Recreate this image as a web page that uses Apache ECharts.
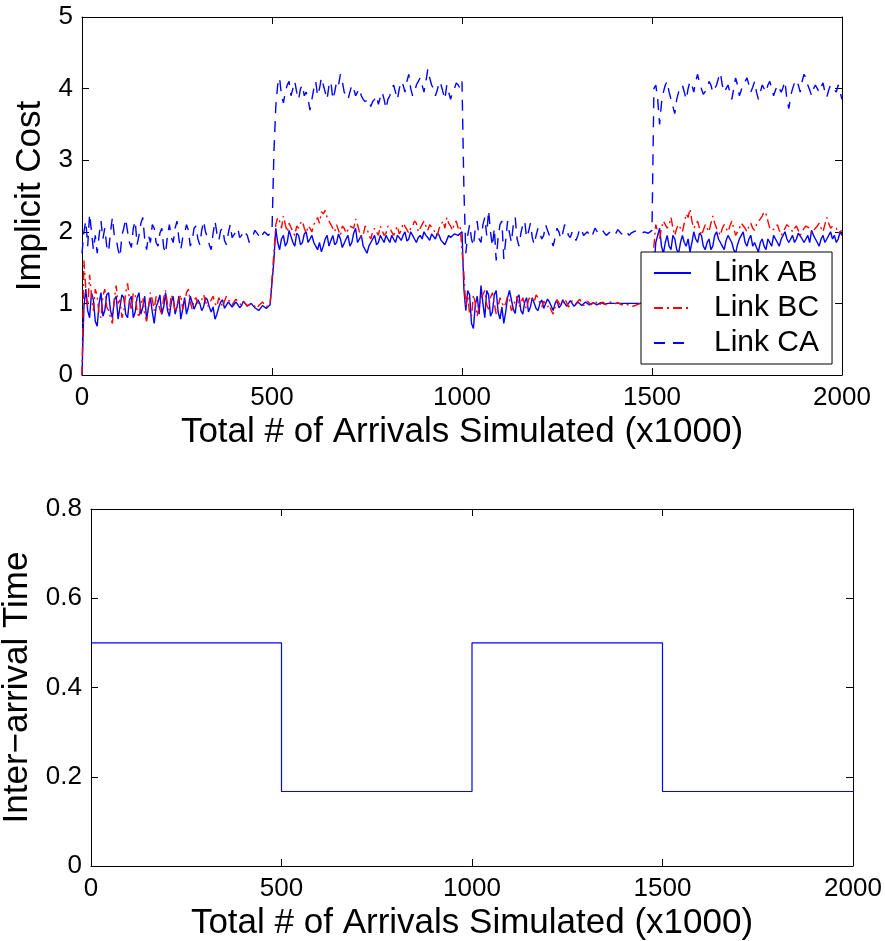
<!DOCTYPE html>
<html>
<head>
<meta charset="utf-8">
<script src="https://cdn.jsdelivr.net/npm/echarts@6/dist/echarts.min.js"></script>
<style>
  html, body { margin: 0; padding: 0; background: #fff; }
  #chart { width: 885px; height: 941px; }
</style>
</head>
<body>
<div id="chart"></div>
<script>
// sample positions (x1000 arrivals), one every 5
const arrivals = []
for (let i = 0; i <= 400; i++) arrivals.push(i * 5)

// Link AB (solid blue)
const linkAB = [
  0.0, 0.95, 1.2, 0.9, 0.8, 1.15, 1.05, 0.75, 0.68, 1.0, 1.15, 0.82, 0.9, 1.12, 1.15, 0.9, 0.8, 1.05, 1.1, 0.78,
  0.95, 1.12, 1.08, 0.85, 0.8, 1.05, 1.1, 0.8, 0.88, 1.08, 1.15, 0.85, 0.95, 1.1, 0.78, 0.95, 1.08, 0.88, 0.72, 0.95,
  1.02, 1.12, 0.85, 0.95, 1.15, 0.9, 0.82, 1.02, 1.1, 0.85, 0.95, 1.1, 0.78, 0.92, 1.08, 0.85, 0.95, 1.1, 1.12, 0.92,
  0.9, 1.05, 1.0, 0.9, 0.95, 1.08, 1.05, 0.95, 0.88, 0.95, 0.78, 0.85, 0.95, 1.02, 1.05, 0.93, 0.92, 1.02, 1.0, 0.95,
  0.95, 1.02, 1.0, 0.94, 0.97, 1.03, 1.02, 0.96, 0.95, 1.0, 1.0, 0.94, 0.96, 0.9, 0.92, 0.97, 0.98, 0.93, 0.95, 0.98,
  1.0,
  1.6, 2.05, 1.85, 1.75, 1.9, 1.95, 1.8, 1.85, 2.02, 2.0, 1.85, 1.8, 1.98, 1.95, 1.82, 1.85, 1.97, 2.0, 1.85, 1.9,
  1.95, 1.85, 1.8, 1.75, 1.85, 1.72, 1.8, 1.9, 1.95, 1.8, 1.88, 1.95, 1.82, 1.85, 1.97, 1.9, 1.78, 1.8, 1.9, 1.95,
  1.8, 1.85, 1.98, 2.05, 1.85, 1.9, 1.95, 1.8, 1.75, 1.7, 1.8, 1.85, 1.9, 1.95, 1.82, 1.85, 1.95, 1.9, 1.85, 1.95,
  1.9, 1.85, 1.95, 1.9, 1.85, 1.95, 1.92, 1.88, 1.95, 2.0, 1.87, 1.9, 2.0, 1.95, 1.9, 1.85, 1.92, 1.95, 1.9, 2.0,
  1.95, 1.92, 1.88, 1.97, 1.95, 1.9, 1.98, 1.95, 1.88, 1.85, 1.82, 1.8, 1.95, 1.92, 1.9, 1.97, 1.98, 1.95, 1.96, 2.0,
  1.2, 0.9, 1.18, 1.12, 0.72, 0.65, 0.98, 1.1, 0.85, 1.25, 1.0, 0.8, 1.18, 1.12, 0.82, 0.88, 1.12, 1.18, 0.88, 0.78,
  0.95, 0.72, 0.88, 1.08, 1.18, 1.2, 0.92, 0.86, 1.08, 1.12, 0.9, 0.85, 1.02, 1.08, 0.88, 0.95, 1.08, 1.1, 0.93, 0.9,
  1.0, 1.05, 0.93, 0.95, 1.06, 1.02, 0.96, 0.9, 1.0, 1.05, 0.94, 0.97, 1.05, 1.03, 0.96, 0.95, 1.04, 1.02, 0.96, 0.97,
  1.02, 1.03, 0.97, 0.98, 1.02, 1.0, 0.98, 0.97, 1.01, 1.02, 0.98, 0.99, 1.01, 1.01, 0.99, 0.98, 1.0, 1.0, 1.0, 1.0,
  1.0, 1.0, 1.0, 1.0, 1.0, 1.0, 1.0, 1.0, 1.0, 1.0, 1.0, 1.0, 1.0, 1.0, 1.0, 1.0, 1.0, 1.0, 1.0, 1.0,
  1.5, 1.85, 1.95, 2.05, 1.8, 1.7, 1.85, 1.95, 1.8, 1.75, 1.95, 1.9, 1.75, 1.7, 1.85, 1.95, 1.85, 1.8, 1.9, 1.72,
  1.85, 2.0, 1.9, 1.85, 1.98, 1.95, 1.8, 1.75, 1.85, 1.9, 1.75, 1.8, 1.95, 2.0, 1.9, 1.85, 1.8, 1.75, 1.88, 1.95,
  1.9, 1.85, 1.75, 1.7, 1.82, 1.9, 1.95, 2.0, 1.85, 1.8, 1.9, 1.95, 1.8, 1.85, 1.78, 1.72, 1.85, 1.9, 1.8, 1.75,
  1.9, 1.85, 1.8, 1.95, 1.9, 1.85, 1.8, 1.9, 1.95, 2.0, 1.9, 1.85, 1.9, 1.95, 1.85, 1.9, 1.98, 2.0, 1.9, 1.85,
  1.9, 1.95, 1.85, 2.02, 1.95, 1.9, 1.85, 1.8, 1.9, 1.95, 1.85, 1.9, 1.95, 2.0, 1.9, 1.95, 1.85, 1.9, 2.0, 1.95
]

// Link BC (red dash-dot)
const linkBC = [
  0.0, 1.6, 1.2, 0.95, 1.4, 1.1, 0.9, 1.2, 1.1, 0.85, 0.8, 1.1, 1.2, 0.95, 0.9, 0.8, 0.72, 1.05, 1.25, 1.0,
  1.05, 0.8, 0.88, 1.15, 1.28, 1.05, 0.9, 1.15, 1.12, 0.9, 0.8, 1.0, 1.08, 0.85, 0.75, 0.95, 1.15, 1.05, 0.9, 1.1,
  1.08, 0.92, 0.85, 1.08, 1.18, 0.98, 0.9, 1.12, 1.05, 0.88, 0.9, 1.05, 1.12, 0.92, 1.0, 1.15, 1.2, 1.02, 0.92, 1.05,
  1.08, 1.0, 0.98, 1.05, 1.12, 1.03, 0.95, 1.0, 1.05, 1.1, 1.0, 0.96, 1.08, 1.02, 0.95, 1.03, 1.1, 1.05, 1.02, 0.98,
  1.0, 1.06, 1.05, 1.0, 0.97, 1.02, 1.02, 0.97, 0.95, 0.99, 1.0, 0.96, 0.93, 0.97, 0.98, 1.02, 1.0, 0.95, 0.97, 1.0,
  1.02,
  1.7, 2.1, 2.2, 2.15, 2.05, 2.22, 2.1, 2.0, 2.12, 2.1, 2.0, 1.95, 2.08, 2.05, 2.12, 2.15, 2.05, 1.98, 2.08, 2.05,
  2.0, 2.1, 2.15, 2.2, 2.12, 2.28, 2.25, 2.3, 2.2, 2.15, 2.1, 2.05, 2.0, 2.1, 2.02, 1.95, 2.08, 2.05, 1.98, 2.0,
  2.08, 2.1, 2.05, 2.18, 2.1, 2.0, 1.92, 1.95, 2.08, 2.05, 1.95, 1.9, 2.0, 2.05, 2.0, 1.95, 2.08, 2.02, 1.95, 1.98,
  2.08, 2.05, 2.0, 1.95, 2.02, 2.08, 1.97, 2.02, 2.12, 2.1, 2.03, 1.98, 2.05, 2.08, 2.15, 2.12, 2.0, 2.05, 2.1, 2.15,
  2.08, 2.02, 2.1, 2.08, 2.03, 1.98, 1.95, 2.05, 2.1, 2.15, 2.05, 2.2, 2.12, 2.08, 2.02, 2.12, 2.15, 2.05, 2.08, 2.1,
  1.4, 0.95, 1.12, 0.85, 0.82, 1.12, 1.0, 0.82, 0.95, 1.08, 1.12, 1.18, 0.98, 0.92, 1.08, 1.15, 1.0, 0.85, 0.95, 1.08,
  1.08, 0.95, 1.0, 1.1, 1.05, 0.9, 0.95, 1.05, 1.1, 0.95, 1.0, 1.08, 0.98, 0.92, 1.05, 1.1, 1.05, 1.02, 1.12, 1.08,
  1.0, 0.95, 1.03, 1.05, 0.95, 0.98, 0.9, 0.85, 0.95, 1.05, 1.03, 0.97, 1.0, 1.06, 1.02, 0.95, 0.98, 1.04, 1.02, 1.0,
  1.03, 1.06, 1.0, 0.97, 1.0, 1.03, 1.02, 0.98, 1.0, 1.04, 1.0, 0.97, 0.99, 1.02, 1.01, 0.98, 1.0, 1.02, 1.0, 0.99,
  1.0, 1.01, 1.0, 0.98, 0.99, 1.0, 0.98, 0.97, 0.96, 0.96, 0.97, 0.98, 0.99, 1.0, 1.0, 1.0, 1.0, 1.0, 1.0, 1.0,
  1.8, 2.1, 2.0, 1.9, 2.05, 2.15, 2.1, 2.05, 2.1, 2.2, 2.05, 1.95, 2.05, 2.1, 2.05, 2.0, 2.12, 2.25, 2.2, 2.32,
  2.15, 2.05, 2.1, 2.15, 2.05, 1.95, 2.02, 2.1, 2.05, 2.0, 2.12, 2.22, 2.12, 2.05, 2.0, 1.95, 2.05, 2.1, 2.05, 2.0,
  2.08, 2.15, 2.05, 1.95, 2.0, 2.05, 2.12, 2.1, 2.05, 2.0, 2.08, 2.12, 2.05, 2.02, 2.1, 2.15, 2.18, 2.22, 2.28, 2.25,
  2.15, 2.05, 2.02, 2.0, 2.05, 2.1, 2.02, 1.95, 2.0, 2.05, 2.1, 2.12, 2.05, 2.0, 2.05, 2.08, 2.02, 1.95, 2.0, 2.05,
  2.08, 2.1, 2.05, 1.98, 2.02, 2.05, 2.08, 2.12, 2.05, 2.0, 2.1, 2.2, 2.12, 2.05, 2.08, 2.1, 2.05, 1.98, 2.0, 2.02
]

// Link CA (blue dashed)
const linkCA = [
  1.7, 2.0, 2.15, 1.8, 2.25, 2.0, 1.75, 1.95, 1.7, 1.95, 2.15, 1.9, 2.05, 1.8, 1.72, 2.0, 2.2, 1.95, 1.9, 1.75,
  1.65, 1.95, 2.05, 2.18, 2.0, 1.85, 1.78, 2.05, 2.15, 1.82, 1.95, 2.12, 2.2, 1.9, 1.75, 1.95, 1.85, 2.1, 2.05, 1.85,
  1.8, 1.98, 2.05, 1.78, 1.7, 1.95, 2.1, 1.92, 1.85, 2.05, 2.15, 1.9, 1.75, 1.92, 1.98, 2.1, 2.02, 1.8, 1.88, 2.05,
  2.08, 1.9, 1.82, 2.02, 2.15, 2.0, 1.92, 1.82, 1.75, 1.98, 2.15, 1.98, 1.88, 2.02, 2.05, 1.88, 1.82, 1.98, 2.1, 1.92,
  1.9, 2.0, 2.05, 1.92, 1.95, 2.02, 2.0, 1.95, 1.85, 1.92, 1.95, 2.02, 2.0, 1.95, 1.9, 1.96, 2.0, 1.98, 1.95, 1.97,
  2.0,
  3.1, 3.75, 4.05, 4.15, 3.9, 3.8, 3.95, 4.05, 4.1, 3.9, 4.0, 4.1, 3.95, 3.85, 4.0, 4.05, 3.9, 3.95, 3.85, 3.7,
  3.85, 4.0, 4.1, 3.9, 4.0, 4.15, 4.05, 3.95, 3.85, 4.05, 4.1, 3.85, 3.95, 4.1, 4.05, 4.2, 4.1, 3.95, 3.9, 3.85,
  3.95, 4.05, 4.0, 3.9, 3.95, 4.0, 3.9, 3.85, 3.82, 3.8, 3.85, 3.75, 3.82, 3.85, 3.9, 3.78, 3.88, 3.95, 3.85, 3.72,
  3.85, 3.9, 4.0, 4.05, 3.95, 3.85, 4.0, 4.1, 4.05, 3.95, 4.1, 4.2, 4.0, 3.9, 3.95, 4.05, 4.1, 4.15, 4.05, 3.95,
  4.1, 4.27, 4.15, 4.05, 4.0, 3.9, 3.98, 4.1, 4.05, 3.95, 3.85, 4.05, 3.95, 3.85, 3.95, 4.0, 4.08, 4.05, 4.0, 4.1,
  2.6, 1.7, 1.95, 2.1, 1.9, 1.8, 2.05, 2.15, 1.9, 1.85, 2.1, 2.2, 1.95, 2.3, 2.0, 1.8, 2.05, 1.6, 1.92, 2.1,
  2.15, 1.62, 1.88, 2.15, 1.98, 1.85, 2.1, 2.2, 1.9, 1.8, 1.98, 2.1, 2.15, 1.92, 2.0, 2.12, 1.92, 1.82, 1.95, 2.05,
  2.05, 1.9, 1.95, 2.1, 2.02, 1.95, 1.88, 1.8, 1.92, 2.05, 2.0, 1.9, 1.98, 2.1, 2.05, 1.95, 1.92, 2.0, 2.02, 1.88,
  1.95, 2.05, 2.02, 1.95, 1.97, 2.0, 1.98, 1.92, 1.98, 2.05, 2.03, 1.97, 1.99, 2.02, 1.98, 1.95, 1.97, 2.0, 1.98, 1.95,
  1.98, 2.03, 2.0, 1.97, 1.99, 2.02, 2.0, 1.95, 1.98, 2.0, 2.01, 2.02, 2.0, 1.97, 1.99, 2.0, 2.0, 1.98, 2.0, 2.02,
  4.0, 4.05, 3.85, 3.5, 3.8, 3.95, 4.05, 4.1, 3.95, 3.85, 3.75, 3.65, 3.85, 3.95, 4.0, 4.05, 3.95, 3.85, 4.0, 4.1,
  4.05, 3.95, 4.1, 4.2, 4.08, 4.0, 3.92, 3.9, 4.0, 4.1, 4.05, 3.95, 4.0, 4.05, 4.15, 4.22, 4.05, 3.95, 4.0, 4.05,
  3.95, 3.85, 4.0, 4.15, 4.05, 3.9, 3.98, 4.05, 4.1, 4.15, 4.05, 3.95, 4.02, 4.1, 3.95, 3.85, 3.95, 4.05, 4.0, 3.95,
  4.05, 4.1, 4.0, 3.9, 3.98, 4.05, 4.0, 3.95, 4.02, 4.1, 3.85, 3.72, 3.9, 4.0, 4.08, 4.12, 4.05, 3.95, 4.1, 4.2,
  4.15, 4.05, 3.98, 3.9, 4.0, 4.05, 4.0, 3.95, 4.02, 4.08, 3.95, 3.88, 3.98, 4.05, 4.02, 4.0, 3.95, 4.05, 3.95, 3.85
]

// inter-arrival time, changes at each breakpoint
const stepArrivals = [0, 500, 1000, 1500, 2000]
const interArrival = [0.5, 0.167, 0.5, 0.167, 0.167]

const FONT = 'Liberation Sans, Helvetica, Arial, sans-serif'
const BLACK = '#000'

;[linkAB, linkBC, linkCA].forEach((s, k) => {
  if (s.length !== arrivals.length) throw new Error('series ' + k + ' has ' + s.length + ' values')
})

const pair = (xs, ys) => xs.map((x, i) => [x, ys[i]])

const xAxisFor = (gridIndex, top, gap) => ({
  type: 'value',
  gridIndex: gridIndex,
  position: top ? 'top' : 'bottom',
  min: 0,
  max: 2000,
  interval: 500,
  axisLine: { show: true, onZero: false, lineStyle: { color: BLACK, width: 1 } },
  axisTick: { show: true, inside: true, length: 7, lineStyle: { color: BLACK } },
  axisLabel: { show: !top, color: BLACK, fontSize: 26, fontFamily: FONT, margin: 10, formatter: v => String(v) },
  splitLine: { show: false },
  name: top ? '' : 'Total # of Arrivals Simulated (x1000)',
  nameLocation: 'middle',
  nameGap: gap,
  nameTextStyle: { color: BLACK, fontSize: 35, fontFamily: FONT }
})

const yAxisFor = (gridIndex, right, max, interval, name, gap) => ({
  type: 'value',
  gridIndex: gridIndex,
  position: right ? 'right' : 'left',
  min: 0,
  max: max,
  interval: interval,
  axisLine: { show: true, onZero: false, lineStyle: { color: BLACK, width: 1 } },
  axisTick: { show: true, inside: true, length: 7, lineStyle: { color: BLACK } },
  axisLabel: { show: !right, color: BLACK, fontSize: 26, fontFamily: FONT, margin: 9 },
  splitLine: { show: false },
  name: right ? '' : name,
  nameLocation: 'middle',
  nameGap: gap,
  nameTextStyle: { color: BLACK, fontSize: 35, fontFamily: FONT }
})

const chart = echarts.init(document.getElementById('chart'))

const option = {
  animation: false,
  backgroundColor: '#fff',
  textStyle: { fontFamily: FONT },
  grid: [
    { left: 82, top: 17, width: 760, height: 358, outerBoundsMode: 'none', containLabel: false },
    { left: 91, top: 509, width: 762, height: 357, outerBoundsMode: 'none', containLabel: false }
  ],
  xAxis: [
    xAxisFor(0, false, 40),
    xAxisFor(0, true, 0),
    xAxisFor(1, false, 40),
    xAxisFor(1, true, 0)
  ],
  yAxis: [
    yAxisFor(0, false, 5, 1, 'Implicit Cost', 32),
    yAxisFor(0, true, 5, 1, '', 0),
    yAxisFor(1, false, 0.8, 0.2, 'Inter\u2212arrival Time', 51),
    yAxisFor(1, true, 0.8, 0.2, '', 0)
  ],
  legend: {
    data: ['Link AB', 'Link BC', 'Link CA'],
    orient: 'vertical',
    left: 641,
    top: 252,
    width: 190,
    padding: [6, 13, 6, 12],
    itemWidth: 37,
    itemHeight: 14,
    itemGap: 5,
    itemStyle: { opacity: 0 },
    backgroundColor: '#fff',
    borderColor: BLACK,
    borderWidth: 1,
    textStyle: { color: BLACK, fontSize: 30, fontFamily: FONT, lineHeight: 30, padding: [0, 0, 0, 18] }
  },
  series: [
    {
      name: 'Link AB',
      type: 'line',
      xAxisIndex: 0,
      yAxisIndex: 0,
      symbol: 'none',
      data: pair(arrivals, linkAB),
      lineStyle: { color: '#0000ff', width: 1.4 },
      itemStyle: { color: '#0000ff' }
    },
    {
      name: 'Link BC',
      type: 'line',
      xAxisIndex: 0,
      yAxisIndex: 0,
      symbol: 'none',
      data: pair(arrivals, linkBC),
      lineStyle: { color: '#ff0000', width: 1.4, type: [9, 4, 2, 4] },
      itemStyle: { color: '#ff0000' }
    },
    {
      name: 'Link CA',
      type: 'line',
      xAxisIndex: 0,
      yAxisIndex: 0,
      symbol: 'none',
      data: pair(arrivals, linkCA),
      lineStyle: { color: '#0000ff', width: 1.4, type: [11, 8] },
      itemStyle: { color: '#0000ff' }
    },
    {
      name: 'Inter-arrival',
      type: 'line',
      xAxisIndex: 2,
      yAxisIndex: 2,
      symbol: 'none',
      step: 'end',
      data: pair(stepArrivals, interArrival),
      lineStyle: { color: '#0000ff', width: 1.2 },
      itemStyle: { color: '#0000ff' }
    }
  ]
}

chart.setOption(option)
</script>
</body>
</html>
